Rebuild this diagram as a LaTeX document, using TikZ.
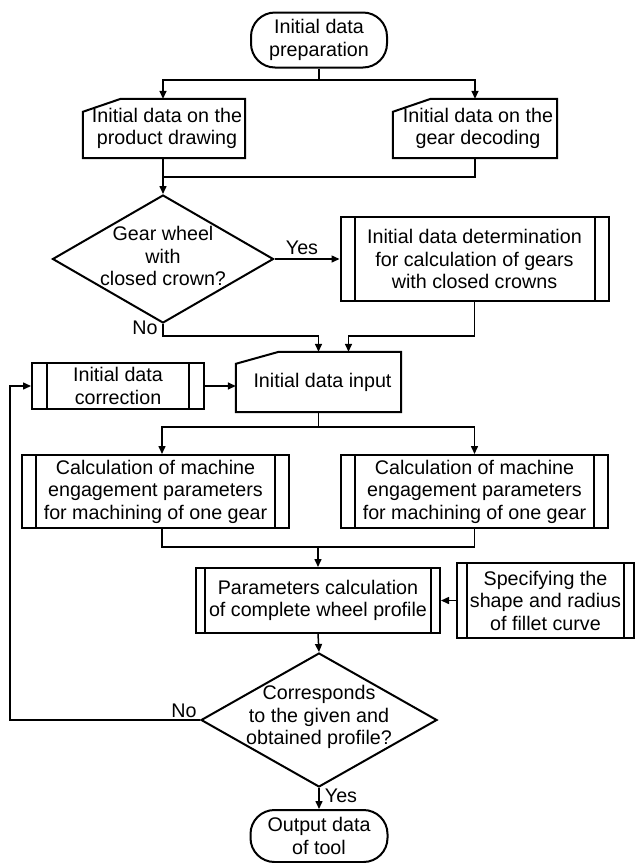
\documentclass[tikz,border=0pt]{standalone}
\usepackage{fontspec}
\setmainfont{Liberation Sans}
\usetikzlibrary{arrows.meta,calc,shapes.geometric}
\tikzset{
  txt/.style={font=\fontsize{19.7}{22.5}\selectfont, align=center, inner sep=0pt},
  box/.style={line width=2pt},
  term/.style={txt, box, draw, rounded corners=24pt},
  rect/.style={txt, box, draw},
  blank/.style={txt},
  dia/.style={box, draw, diamond, inner sep=0pt},
  conn/.style={line width=1.5pt},
  arr/.style={conn, -{Triangle[length=8pt,width=7pt]}},
  lbl/.style={font=\fontsize{19.7}{22.5}\selectfont, inner sep=0pt}
}
\newcommand\predeflines[2]{%
  \draw[box] ([xshift=#2]#1.north west) -- ([xshift=#2]#1.south west)
             ([xshift=-#2]#1.north east) -- ([xshift=-#2]#1.south east);}
\newcommand\manualbox[3]{%
  \draw[box] ([yshift=-#2]#1.north west) -- ([xshift=#3]#1.north west) -- (#1.north east)
             -- (#1.south east) -- (#1.south west) -- cycle;}
\begin{document}
\begin{tikzpicture}[x=1pt,y=-1pt]
\useasboundingbox (0,0) rectangle (635,863);
\fill[white] (0,0) rectangle (635,863);

% nodes
\node[term, minimum width=136pt, minimum height=55pt] (start) at (319,40) {Initial data\\preparation};
\node[blank, minimum width=162pt, minimum height=59pt] (m1) at (164,128.5) {\hspace*{6pt}Initial data on the\\\hspace*{6pt}product drawing};
\node[blank, minimum width=164pt, minimum height=59pt] (m2) at (475,128.5) {\hspace*{6pt}Initial data on the\\\hspace*{6pt}gear decoding};
\node[dia, minimum width=221pt, minimum height=128pt] (d1) at (163,259) {};
\node[txt] (d1t) at (163,256) {Gear wheel\\with\\closed crown?};
\node[rect, minimum width=268pt, minimum height=84pt] (p1) at (474.5,259) {Initial data determination\\for calculation of gears\\with closed crowns};
\node[blank, minimum width=165pt, minimum height=60pt] (input) at (318.5,382) {\hspace*{8pt}Initial data input};
\node[rect, minimum width=172pt, minimum height=46pt] (corr) at (118,386) {Initial data\\correction};
\node[rect, minimum width=267pt, minimum height=73pt] (c1) at (155.5,491.5) {Calculation of machine\\engagement parameters\\for machining of one gear};
\node[rect, minimum width=267pt, minimum height=73pt] (c2) at (474.5,491.5) {Calculation of machine\\engagement parameters\\for machining of one gear};
\node[rect, minimum width=244pt, minimum height=65pt] (par) at (318,600.5) {Parameters calculation\\of complete wheel profile};
\node[rect, minimum width=177pt, minimum height=75pt] (spec) at (545.5,600.5) {Specifying the\\shape and radius\\of fillet curve};
\node[dia, minimum width=236pt, minimum height=134pt] (d2) at (319,720) {};
\node[txt] (d2t) at (319,717) {Corresponds\\to the given and\\obtained profile?};
\node[term, minimum width=137pt, minimum height=52pt] (end) at (319,836) {Output data\\of tool};

% special outlines
\manualbox{m1}{13pt}{38pt}
\manualbox{m2}{13pt}{38pt}
\manualbox{input}{12pt}{43pt}
\predeflines{p1}{15pt}
\predeflines{corr}{16pt}
\predeflines{c1}{15pt}
\predeflines{c2}{15pt}
\predeflines{par}{10pt}
\predeflines{spec}{11pt}

% labels
\node[lbl] (yes1) at (302,248) {Yes};
\node[lbl] (no1) at (145,328) {No};
\node[lbl] (no2) at (184,711) {No};
\node[lbl] (yes2) at (341,796) {Yes};

% connectors
\coordinate (j1) at (319,80);
\draw[conn] (start.south) -- (j1);
\draw[arr] (j1) -| ([xshift=-1pt]m1.north);
\draw[arr] (j1) -| (m2.north);
\coordinate (j2) at (163,177);
\draw[conn] ([xshift=-1pt]m1.south) -- (j2);
\draw[conn] (m2.south) |- (j2);
\draw[arr] (j2) -- (d1.north);
\draw[arr] (d1.east) -- (d1.east -| p1.west);
\draw[arr] (d1.south) -- ++(0,12) -| (input.north);
\draw[arr] (p1.south) -- ++(0,34) -| ([xshift=30pt]input.north);
\draw[arr] (corr.east) -- (corr.east -| input.west);
\coordinate (j4) at (318.5,427);
\draw[conn] (input.south) -- (j4);
\draw[arr] (j4) -| ([xshift=6.5pt]c1.north);
\draw[arr] (j4) -| (c2.north);
\coordinate (j5) at (318,547);
\draw[conn] ([xshift=6.5pt]c1.south) |- (j5);
\draw[conn] (c2.south) |- (j5);
\draw[arr] (j5) -- (par.north);
\draw[arr] (spec.west) -- (spec.west -| par.east);
\draw[arr] (par.south) -- (d2.north);
\draw[arr] (d2.west) -- ++(-190,0) |- (corr.west);
\draw[arr] (d2.south) -- (end.north);
\end{tikzpicture}
\end{document}
